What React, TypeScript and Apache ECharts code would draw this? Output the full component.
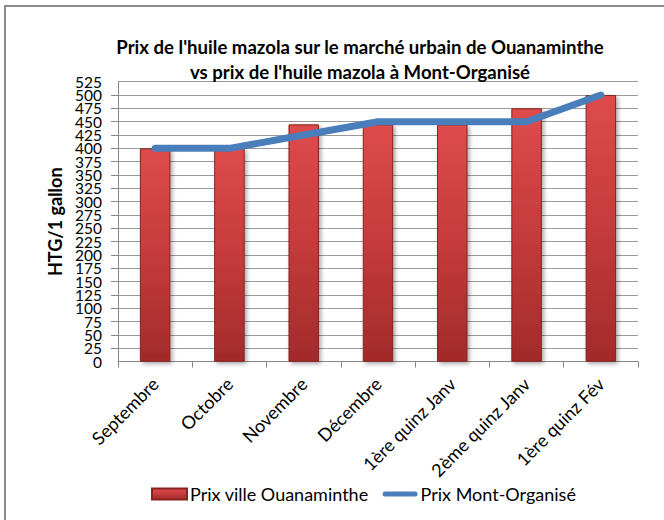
import React, { useEffect, useRef } from "react";
import * as echarts from "echarts";

const categories = [
  "Septembre",
  "Octobre",
  "Novembre",
  "Décembre",
  "1ère quinz Janv",
  "2ème quinz Janv",
  "1ère quinz Fév",
];
const prixOuanaminthe = [400, 400, 445, 445, 445, 475, 500];
const prixMontOrganise = [400, 400, 425, 450, 450, 450, 500];
const titleLines = [
  "Prix de l'huile mazola sur le marché urbain de Ouanaminthe",
  "vs prix de l'huile mazola à Mont-Organisé",
];
const yAxisName = "HTG/1 gallon";
const seriesNames = ["Prix ville Ouanaminthe", "Prix Mont-Organisé"];
const yMin = 0;
const yMax = 525;
const yStep = 25;

const FONT = "Lato";

export default function App() {
  const ref = useRef<HTMLDivElement>(null);
  useEffect(() => {
    if (!ref.current) return;
    const chart = echarts.init(ref.current, undefined, { renderer: "svg" });
    const barGradient = new echarts.graphic.LinearGradient(0, 0, 0, 1, [
      { offset: 0, color: "#de4b4b" },
      { offset: 0.5, color: "#c53b3b" },
      { offset: 1, color: "#a22b2b" },
    ]);
    const labelStyle = {
      fontFamily: FONT,
      fontSize: 15.5,
      lineHeight: 12,
      color: "#000",
      margin: 16,
    };
    chart.setOption({
      animation: false,
      backgroundColor: "#ffffff",
      textStyle: { fontFamily: FONT },
      title: {
        text: titleLines.join("\n"),
        left: 355,
        top: 29,
        textAlign: "center",
        textStyle: {
          fontFamily: FONT,
          fontSize: 18.6,
          fontWeight: "bold",
          color: "#000",
          lineHeight: 25,
        },
      },
      legend: {
        left: 151,
        top: 485,
        padding: 0,
        itemWidth: 35,
        itemHeight: 11,
        itemGap: 14,
        textStyle: { fontFamily: FONT, fontSize: 18, color: "#000", padding: [0, 0, 0, -2] },
        data: [
          { name: seriesNames[0], icon: "rect" },
          {
            name: seriesNames[1],
            icon: "path://M3,0 L39,0 A3,3 0 0 1 39,6 L3,6 A3,3 0 0 1 3,0 Z",
            itemStyle: { color: "#4a7ebb" },
          },
        ],
      },
      grid: { left: 118, right: 26, top: 81.7, bottom: 158.3, containLabel: false },
      xAxis: {
        type: "category",
        data: categories,
        axisLine: { show: true, lineStyle: { color: "#888", width: 1 } },
        axisTick: { show: true, interval: 0, length: 6, lineStyle: { color: "#888" } },
        axisLabel: {
          interval: 0,
          rotate: 45,
          margin: 19,
          fontFamily: FONT,
          fontSize: 18,
          color: "#000",
        },
      },
      yAxis: [
        {
          type: "value",
          min: yMin,
          max: yMax,
          interval: yStep,
          position: "left",
          name: yAxisName,
          nameLocation: "middle",
          nameGap: 52,
          nameTextStyle: { fontFamily: FONT, fontSize: 18, fontWeight: "bold", color: "#000" },
          axisLine: { show: true, lineStyle: { color: "#888", width: 1 } },
          axisTick: { show: true, length: 7, lineStyle: { color: "#888" } },
          axisLabel: { ...labelStyle, showMinLabel: false, showMaxLabel: false },
          splitLine: { show: true, lineStyle: { color: "#9a9a9a", width: 1 } },
        },
        {
          type: "value",
          min: yMin,
          max: yMax,
          interval: yMax - yMin,
          position: "left",
          offset: 0,
          axisLine: { show: false },
          axisTick: { show: false },
          splitLine: { show: false },
          axisLabel: { ...labelStyle, showMinLabel: true, showMaxLabel: true },
        },
      ],
      series: [
        {
          name: seriesNames[0],
          type: "bar",
          yAxisIndex: 0,
          data: prixOuanaminthe,
          barWidth: "41%",
          itemStyle: {
            color: barGradient,
            borderColor: "#8a2020",
            borderWidth: 1,
            shadowBlur: 4,
            shadowColor: "rgba(0,0,0,0.35)",
            shadowOffsetX: 2,
            shadowOffsetY: 2,
          },
          z: 2,
        },
        {
          name: seriesNames[1],
          type: "line",
          yAxisIndex: 0,
          data: prixMontOrganise,
          symbol: "none",
          lineStyle: { color: "#4a7ebb", width: 7, cap: "round", join: "round" },
          itemStyle: { color: "#4a7ebb" },
          z: 3,
        },
      ],
    });
    return () => chart.dispose();
  }, []);
  return (
    <div style={{ position: "fixed", left: 0, top: 0, width: 664, height: 520, background: "#fff" }}>
      <div ref={ref} style={{ position: "absolute", left: 0, top: 0, width: 664, height: 520 }} />
      <div
        style={{
          position: "absolute",
          left: 4,
          top: 5,
          width: 700,
          height: 600,
          borderLeft: "2px solid #8c8c8c",
          borderTop: "2px solid #8c8c8c",
          pointerEvents: "none",
        }}
      />
    </div>
  );
}
